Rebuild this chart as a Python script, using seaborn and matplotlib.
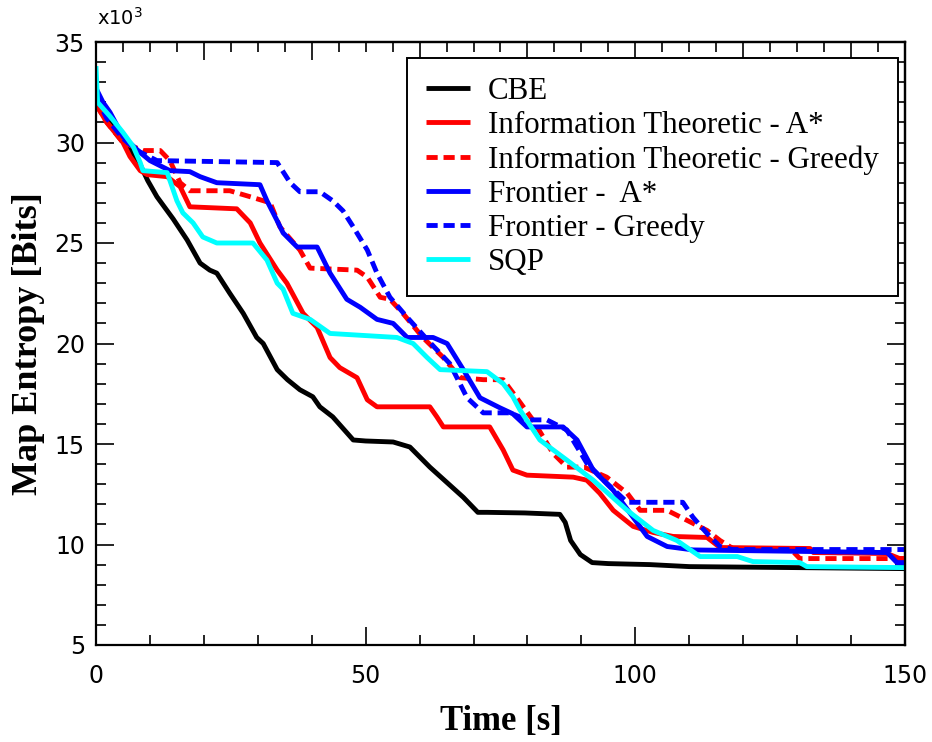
import matplotlib
matplotlib.use("Agg")
import matplotlib.pyplot as plt
from matplotlib.ticker import MultipleLocator, NullFormatter
import seaborn as sns
import pandas as pd

# ---- data (time in s, entropy in thousands of bits) ----
cbe_t = [0, 2, 5, 8, 9.6, 11.3, 14.3, 16.9, 19.3, 21.1, 22.4, 24.8, 27.3, 29.8, 31, 33.6, 35.5, 37.8,
         40.2, 41.5, 43.9, 47.7, 50, 55.1, 58.2, 61.9, 65, 68.1, 70.8, 72.5, 79.5, 86, 87, 88, 89.8, 92,
         95, 102.7, 110, 130, 150]
cbe_v = [32.4, 31.3, 30.2, 29.0, 28.1, 27.3, 26.2, 25.15, 24.0, 23.65, 23.5, 22.5, 21.5, 20.3, 20.0,
         18.7, 18.2, 17.7, 17.35, 16.85, 16.35, 15.2, 15.15, 15.1, 14.85, 13.85, 13.1, 12.35, 11.6, 11.6,
         11.57, 11.5, 11.1, 10.2, 9.5, 9.1, 9.05, 9.0, 8.9, 8.85, 8.8]

ita_t = [0, 2, 5, 6.3, 8.2, 9.5, 13.2, 15.6, 17.4, 26.1, 28.6, 30.4, 33.6, 35.4, 38.4, 41, 43.4, 45.2,
         48.4, 50.3, 52.1, 61.9, 63.2, 64.4, 73, 75.5, 77.3, 79.9, 88.5, 91, 93.4, 95.9, 99.6, 103.3,
         107, 113.3, 115.7, 132.4, 133, 146.7, 149, 150]
ita_v = [31.9, 31.0, 30.0, 29.3, 28.6, 28.4, 28.3, 27.8, 26.8, 26.7, 26.0, 25.0, 23.65, 23.0, 21.5,
         20.8, 19.3, 18.8, 18.3, 17.2, 16.85, 16.85, 16.35, 15.85, 15.85, 14.7, 13.7, 13.45, 13.35,
         13.2, 12.55, 11.7, 10.9, 10.6, 10.4, 10.35, 9.85, 9.8, 9.6, 9.55, 9.3, 9.3]

itg_t = [0, 2, 5, 8.7, 11.9, 13.7, 15.6, 17.4, 24.8, 28.6, 32.3, 34.1, 37.8, 39.7, 48.4, 50.3, 52.7,
         54.5, 56.9, 60.6, 64.4, 67.5, 71.8, 75.5, 78, 81, 84.7, 87.3, 90.5, 94.7, 98.5, 100.9, 105.9,
         109.6, 113.3, 115.7, 118.1, 128.7, 130.5, 150]
itg_v = [31.9, 31.0, 30.0, 29.6, 29.6, 29.1, 28.0, 27.6, 27.6, 27.3, 27.0, 25.8, 24.65, 23.75, 23.65,
         23.3, 22.3, 22.2, 21.5, 20.3, 19.3, 18.3, 18.2, 18.2, 17.3, 16.2, 14.55, 13.85, 13.85, 13.35,
         12.55, 11.7, 11.7, 11.2, 10.7, 10.2, 9.8, 9.8, 9.3, 9.3]

fra_t = [0, 1.3, 2.6, 5, 8.2, 10, 13.7, 17.4, 19.3, 22.4, 30.4, 31.7, 33.6, 34.7, 37.3, 41,
         43.4, 46.5, 49, 52.1, 55.1, 57.7, 62.5, 65.1, 68.1, 71.2, 74.9, 77.3, 79.9, 86.6, 89.2, 92.2,
         95.9, 99.6, 102.2, 105.9, 110.7, 146.7, 148.5, 150]
fra_v = [32.7, 32.0, 31.5, 30.3, 29.5, 29.1, 28.6, 28.55, 28.3, 28.0, 27.9, 27.1, 26.1, 25.5,
         24.8, 24.8, 23.5, 22.2, 21.8, 21.2, 21.0, 20.3, 20.3, 20.0, 18.7, 17.3, 16.8, 16.5, 15.85,
         15.85, 15.2, 13.7, 12.7, 11.35, 10.4, 9.9, 9.73, 9.6, 9.1, 9.1]

frg_t = [0, 2, 5, 7.6, 11.3, 33.6, 36, 37.8, 41.5, 43.9, 45.8, 47.7, 50.3, 52.1, 54.5, 57.7, 61.4,
         65.6, 68.8, 71.8, 76.8, 79.9, 83.6, 87.3, 91, 94.7, 98.5, 108.8, 110.7, 113.3, 115.7, 118, 150]
frg_v = [32.3, 31.2, 30.2, 29.6, 29.1, 29.0, 28.0, 27.55, 27.55, 27.1, 26.6, 25.8, 24.65, 23.5,
         22.3, 21.3, 20.2, 19.0, 17.3, 16.55, 16.55, 16.2, 16.2, 15.7, 14.05, 13.05, 12.1, 12.1, 11.35,
         10.55, 9.9, 9.75, 9.75]

sqp_t = [0, 0.3, 2.6, 5, 6.9, 8.2, 8.7, 13.2, 15.0, 16.1, 18, 19.8, 22.4, 29.1, 31.7, 33.6,
         34.7, 36.5, 39.7, 43.4, 55.8, 58.8, 61.4, 63.8, 72.5, 75.5, 77.3, 78.6, 82.3, 87.3, 92.2,
         98.5, 103.3, 107.7, 112, 118.9, 121.8, 130.5, 131.8, 150]
sqp_v = [33.8, 32.0, 31.3, 30.5, 29.8, 29.0, 28.6, 28.5, 27.1, 26.5, 26.0, 25.3, 25.0, 25.0,
         24.15, 23.0, 22.7, 21.5, 21.2, 20.5, 20.3, 20.0, 19.3, 18.7, 18.6, 18.0, 17.35, 16.7, 15.2,
         14.2, 13.2, 11.7, 10.7, 10.2, 9.4, 9.4, 9.15, 9.1, 8.9, 8.85]

labels = ["CBE", "Information Theoretic - A*", "Information Theoretic - Greedy",
          "Frontier -  A*", "Frontier - Greedy", "SQP"]
colors = ["#000000", "#ff0000", "#ff0000", "#0000ff", "#0000ff", "#00ffff"]
dashed = [False, False, True, False, True, False]
series = [(cbe_t, cbe_v), (ita_t, ita_v), (itg_t, itg_v), (fra_t, fra_v), (frg_t, frg_v), (sqp_t, sqp_v)]

sns.set_style("ticks")
plt.rcParams["font.family"] = ["DejaVu Sans"]
plt.rcParams.update({"text.color": "black", "axes.labelcolor": "black",
                     "xtick.color": "black", "ytick.color": "black", "axes.edgecolor": "black"})

fig = plt.figure(figsize=(9.32, 7.42), dpi=100)
ax = fig.add_axes([96 / 932, 1 - 645 / 742, (905 - 96) / 932, (645 - 42) / 742])

handles = []
for (t, v), lab, col, dsh in zip(series, labels, colors, dashed):
    df = pd.DataFrame({"t": t, "v": v})
    sns.lineplot(data=df, x="t", y="v", ax=ax, color=col, lw=3.5, estimator=None, sort=False,
                 legend=False)
    ln = ax.lines[-1]
    ln.set_solid_joinstyle("round")
    ln.set_solid_capstyle("butt")
    if dsh:
        ln.set_linestyle((0, (2.3, 1.2)))
    ln.set_label(lab)
    handles.append(ln)

ax.set_xlim(0, 150)
ax.set_ylim(5, 35)
ax.xaxis.set_major_locator(MultipleLocator(50))
ax.xaxis.set_minor_locator(MultipleLocator(10))
ax.yaxis.set_major_locator(MultipleLocator(5))
ax.yaxis.set_minor_locator(MultipleLocator(1))
ax.tick_params(axis="both", which="major", direction="in", length=13, width=1.2, colors="black",
               labelsize=17)
ax.tick_params(axis="both", which="minor", direction="in", length=7.5, width=1.2, colors="black")
ax.tick_params(axis="x", which="major", pad=14)
ax.tick_params(axis="y", which="major", pad=8)
for s in ax.spines.values():
    s.set_visible(True)
    s.set_linewidth(1.6)
    s.set_color("black")

top = ax.secondary_xaxis("top")
top.xaxis.set_major_locator(MultipleLocator(20))
top.xaxis.set_minor_locator(MultipleLocator(5))
top.xaxis.set_major_formatter(NullFormatter())
top.tick_params(axis="x", which="major", direction="in", length=13, width=1.2, colors="black")
top.tick_params(axis="x", which="minor", direction="in", length=7.5, width=1.2, colors="black")
top.spines["top"].set_linewidth(1.6)
top.spines["top"].set_color("black")

right = ax.secondary_yaxis("right")
right.yaxis.set_major_locator(MultipleLocator(5))
right.yaxis.set_minor_locator(MultipleLocator(1))
right.yaxis.set_major_formatter(NullFormatter())
right.tick_params(axis="y", which="major", direction="in", length=13, width=1.2, colors="black")
right.tick_params(axis="y", which="minor", direction="in", length=7.5, width=1.2, colors="black")
right.spines["right"].set_linewidth(1.6)
right.spines["right"].set_color("black")

ax.set_xlabel("Time [s]", fontsize=25, fontweight="bold", family="Liberation Serif", labelpad=12,
              color="black")
ax.set_ylabel("Map Entropy [Bits]", fontsize=26, fontweight="bold", family="Liberation Serif",
              labelpad=7, color="black")

fig.text(97 / 932, 1 - 25 / 742, r"x10$^3$", fontsize=14, va="baseline", ha="left", color="black")

leg = ax.legend(handles=handles, loc="upper left", bbox_to_anchor=(407 / 932, 1 - 58 / 742),
                bbox_transform=fig.transFigure, frameon=True, fancybox=False, framealpha=1,
                edgecolor="black", prop={"family": "Liberation Serif", "size": 22.3},
                handlelength=1.4, handletextpad=0.6, labelspacing=0.16, borderpad=0.62,
                borderaxespad=0, labelcolor="black")
leg.get_frame().set_linewidth(1.4)

fig.savefig("out.png", dpi=100)
